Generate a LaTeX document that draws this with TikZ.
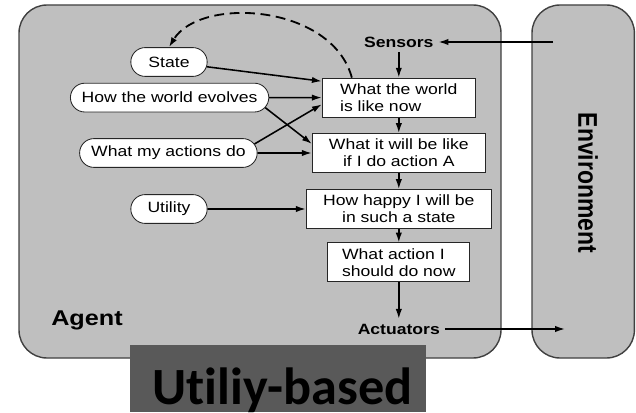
\documentclass[tikz,border=0pt]{standalone}
\usepackage{fontspec}
\usepackage{graphicx}
\setmainfont{Liberation Sans}[FakeStretch=1.18]
\newfontfamily\uprightsans{Liberation Sans}
\newfontfamily\slidefont{Carlito}[Ligatures=NoCommon]
\usetikzlibrary{arrows.meta,shapes.misc}
\definecolor{panelgray}{RGB}{191,191,191}
\definecolor{slidegray}{RGB}{89,89,89}
\tikzset{
	panel/.style={draw=black!75, fill=panelgray, line width=1pt, rounded corners=0.7cm},
	belief/.style={rounded rectangle, draw=black!85, fill=white, semithick, minimum height=0.72cm, inner xsep=2pt, font=\fontsize{10.6}{12}\selectfont},
	stage/.style={rectangle, draw=black!85, fill=white, semithick, minimum height=0.975cm, inner xsep=2pt, font=\fontsize{10.6}{12}\selectfont},
	port/.style={font=\bfseries\fontsize{10.6}{12}\selectfont},
	flow/.style={-{Latex[length=7pt,width=4.5pt]}, line width=1.1pt}
}
\begin{document}
\begin{tikzpicture}[]
		\useasboundingbox (0,0) rectangle (15.9,10.3);
		
		%panels
		\node[panel, minimum width=12.05cm, minimum height=8.825cm](agent) at (6.5,5.7625) {};
		\node[panel, minimum width=2.56cm, minimum height=8.825cm](env) at (14.58,5.7625) {};
		\node[font=\bfseries\fontsize{15.2}{16}\selectfont](agentname) at (2.175,2.3) {Agent};
		\node[rotate=-90](envname) at (14.7,5.725) {\scalebox{1}[1.18]{\uprightsans\bfseries\fontsize{16.3}{18}\selectfont Environment}};
		
		%sensors and actuators
		\node[port](sensors) at (9.97,9.25) {Sensors};
		\node[port](actuators) at (9.97,2.075) {Actuators};
		\coordinate (percept) at (13.825,9.25);
		\coordinate (effect) at (14.125,2.075);
		
		%internal state
		\node[belief, minimum width=2.05cm](state) at (4.225,8.75) {State};
		\node[belief, minimum width=5.1cm](evolves) at (4.24,7.86) {How the world evolves};
		\node[belief, minimum width=4.58cm](actions) at (4.21,6.475) {What my actions do};
		\node[belief, minimum width=2.05cm](utility) at (4.225,5.075) {Utility};
		
		%decision chain
		\node[stage, minimum width=3.83cm, align=left](world) at (9.97,7.86) {What the world\\is like now};
		\node[stage, minimum width=4.33cm, align=center](predict) at (9.97,6.475) {What it will be like\\if I do action A};
		\node[stage, minimum width=4.63cm, align=center](happy) at (9.97,5.075) {How happy I will be\\in such a state};
		\node[stage, minimum width=3.55cm, align=left](decide) at (9.97,3.74) {What action I\\should do now};
		
		%arrows
		\draw[flow] (percept) -- (sensors);
		\draw[flow] (sensors) -- (world);
		\draw[flow] (world) -- (predict);
		\draw[flow] (predict) -- (happy);
		\draw[flow] (happy) -- (decide);
		\draw[flow] (decide) -- (actuators);
		\draw[flow] (actuators) -- (effect);
		\draw[flow] (state) -- (world.168);
		\draw[flow] (evolves) -- (world);
		\draw[flow] (evolves.-6) -- (predict.174);
		\draw[flow] (actions.6) -- (world.185);
		\draw[flow] (actions) -- (predict);
		\draw[flow] (utility) -- (happy);
		\draw[flow, line width=1.3pt, dash pattern=on 7pt off 4pt] (world.157) .. controls (8.3,10.2) and (5.0,10.4) .. (state.north);
		
		%kind of agent
		\node[fill=slidegray, minimum width=7.4cm, minimum height=1.675cm, inner sep=0pt](kind) at (6.95,0.8375) {};
		\node[anchor=base, font=\slidefont\bfseries\fontsize{37.2}{40}\selectfont](kindname) at (7.06,0.19) {Utiliy-based};
\end{tikzpicture}
\end{document}
